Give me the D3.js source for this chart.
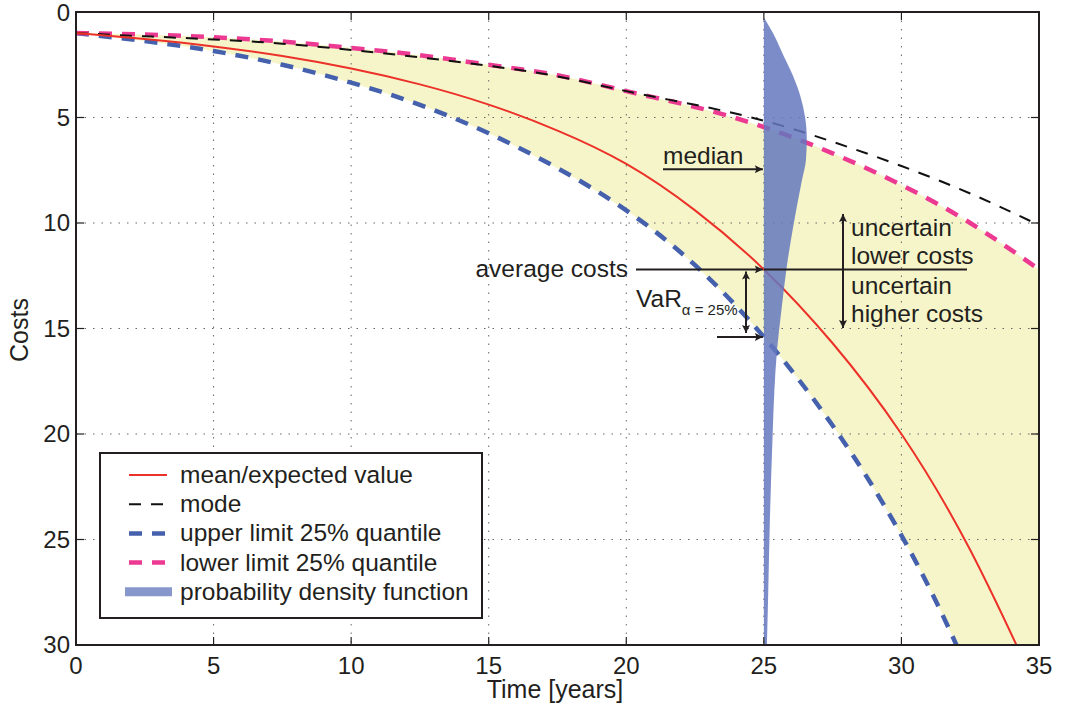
<!DOCTYPE html>
<html>
<head>
<meta charset="utf-8">
<script src="https://cdn.jsdelivr.net/npm/d3@7"></script>
<style>
  body { margin: 0; background: #fff; }
  text { font-family: "Liberation Sans", Arial, sans-serif; fill: #231f20; }
</style>
</head>
<body>
<svg id="chart" width="1080" height="711"></svg>
<script>
// DATA -----------------------------------------------------------------------

var years      = [0, 2.5, 5, 7.5, 10, 12.5, 15, 17.5, 20, 22.5, 25, 27.5, 30, 32.5, 35];
var meanCost   = [1, 1.28, 1.63, 2.09, 2.68, 3.43, 4.39, 5.62, 7.2, 9.4, 12.2, 15.7, 20.0, 25.5, 32.3];
var modeCost   = [1, 1.15, 1.3, 1.5, 1.8, 2.15, 2.55, 3.05, 3.75, 4.4, 5.15, 6.15, 7.3, 8.6, 10.1];
var upperQuant = [1, 1.38, 1.85, 2.5, 3.35, 4.4, 5.75, 7.4, 9.4, 12.0, 15.4, 19.6, 24.8, 31.5, 40];
var lowerQuant = [1, 1.07, 1.2, 1.4, 1.7, 2.05, 2.5, 3.0, 3.75, 4.5, 5.45, 6.7, 8.2, 10.0, 12.2];

// probability density at year 25, drawn sideways (width in years)
var pdfYear  = 25;
var pdfCost  = [0.3, 1, 2, 3, 4, 5, 6, 7, 8, 10, 12, 14, 16, 18, 20, 24, 28, 30];
var pdfWidth = [0.02, 0.33, 0.69, 1.05, 1.33, 1.5, 1.56, 1.53, 1.38, 1.09, 0.84, 0.65, 0.48, 0.38, 0.32, 0.22, 0.15, 0.11];

var xTicks = [0, 5, 10, 15, 20, 25, 30, 35];
var yTicks = [0, 5, 10, 15, 20, 25, 30];

var medianCost = 7.45;   // median of the pdf
var avgCost    = 12.2;   // mean at year 25
var varCost    = 15.4;   // 25% quantile at year 25

var legendLabels = ["mean/expected value", "mode", "upper limit 25% quantile",
                    "lower limit 25% quantile", "probability density function"];


// SETUP ----------------------------------------------------------------------

var svg = d3.select("#chart");
var pLeft = 76, pRight = 1039, pTop = 12, pBottom = 645;

var x = d3.scaleLinear().domain([0, 35]).range([pLeft, pRight]);
var y = d3.scaleLinear().domain([0, 30]).range([pTop, pBottom]);

var red = "#ec3129", pink = "#ec3a92", blue = "#4561ad", pdfColor = "rgb(100,120,190)";
var fs = 24.5; // annotation font size

var defs = svg.append("defs");
defs.append("clipPath").attr("id", "plotClip")
   .append("rect").attr("x", pLeft).attr("y", pTop)
   .attr("width", pRight - pLeft).attr("height", pBottom - pTop);

var marker = defs.append("marker")
   .attr("id", "arrow").attr("viewBox", "0 0 10 10")
   .attr("refX", 10).attr("refY", 5)
   .attr("markerWidth", 13).attr("markerHeight", 8)
   .attr("markerUnits", "userSpaceOnUse")
   .attr("orient", "auto-start-reverse");
marker.append("path").attr("d", "M0,0 L10,5 L0,10 L2,5 Z").attr("fill", "#231f20");

var plot = svg.append("g").attr("clip-path", "url(#plotClip)");

function series(vals) {
    return years.map(function(t, i) { return [t, vals[i]]; });
}

// FILLS ----------------------------------------------------------------------

var band = years.map(function(t, i) { return [t, upperQuant[i], lowerQuant[i]]; });
plot.append("path")
    .datum(band)
    .attr("fill", "#f6f5c9")
    .attr("d", d3.area()
        .x(function(d) { return x(d[0]); })
        .y0(function(d) { return y(d[1]); })
        .y1(function(d) { return y(d[2]); })
        .curve(d3.curveNatural));

// GRID -----------------------------------------------------------------------

plot.selectAll(".gx").data(xTicks.slice(1, -1)).enter()
    .append("line")
    .attr("x1", function(d) { return x(d); }).attr("x2", function(d) { return x(d); })
    .attr("y1", pTop).attr("y2", pBottom)
    .attr("stroke", "#666").attr("stroke-width", 1).attr("stroke-dasharray", "1.5,7");
plot.selectAll(".gy").data(yTicks.slice(1, -1)).enter()
    .append("line")
    .attr("y1", function(d) { return y(d); }).attr("y2", function(d) { return y(d); })
    .attr("x1", pLeft).attr("x2", pRight)
    .attr("stroke", "#666").attr("stroke-width", 1).attr("stroke-dasharray", "1.5,7");

// CURVES ---------------------------------------------------------------------

var line = d3.line()
    .x(function(d) { return x(d[0]); })
    .y(function(d) { return y(d[1]); })
    .curve(d3.curveNatural);

plot.append("path").datum(series(upperQuant)).attr("d", line)
    .attr("fill", "none").attr("stroke", blue).attr("stroke-width", 4.5)
    .attr("stroke-dasharray", "13,10");
plot.append("path").datum(series(lowerQuant)).attr("d", line)
    .attr("fill", "none").attr("stroke", pink).attr("stroke-width", 4.5)
    .attr("stroke-dasharray", "13,10");
plot.append("path").datum(series(modeCost)).attr("d", line)
    .attr("fill", "none").attr("stroke", "#111").attr("stroke-width", 2)
    .attr("stroke-dasharray", "12,10");
plot.append("path").datum(series(meanCost)).attr("d", line)
    .attr("fill", "none").attr("stroke", red).attr("stroke-width", 2);

// PDF ------------------------------------------------------------------------

var pdfData = pdfCost.map(function(c, i) { return [c, pdfWidth[i]]; });
plot.append("path")
    .datum(pdfData)
    .attr("fill", pdfColor).attr("fill-opacity", 0.85)
    .attr("d", d3.area()
        .y(function(d) { return y(d[0]); })
        .x0(x(pdfYear))
        .x1(function(d) { return x(pdfYear + d[1]); })
        .curve(d3.curveMonotoneY));

// AXES -----------------------------------------------------------------------

var axes = svg.append("g");
axes.append("rect").attr("x", pLeft).attr("y", pTop)
    .attr("width", pRight - pLeft).attr("height", pBottom - pTop)
    .attr("fill", "none").attr("stroke", "#231f20").attr("stroke-width", 2);

var tl = 8;
xTicks.forEach(function(t) {
    axes.append("line").attr("x1", x(t)).attr("x2", x(t)).attr("y1", pBottom).attr("y2", pBottom - tl)
        .attr("stroke", "#231f20").attr("stroke-width", 1.2);
    axes.append("line").attr("x1", x(t)).attr("x2", x(t)).attr("y1", pTop).attr("y2", pTop + tl)
        .attr("stroke", "#231f20").attr("stroke-width", 1.2);
});
yTicks.forEach(function(t) {
    axes.append("line").attr("y1", y(t)).attr("y2", y(t)).attr("x1", pLeft).attr("x2", pLeft + tl)
        .attr("stroke", "#231f20").attr("stroke-width", 1.2);
    axes.append("line").attr("y1", y(t)).attr("y2", y(t)).attr("x1", pRight).attr("x2", pRight - tl)
        .attr("stroke", "#231f20").attr("stroke-width", 1.2);
});

axes.selectAll(".xl").data(xTicks).enter().append("text")
    .attr("x", function(d) { return x(d); }).attr("y", pBottom + 29)
    .attr("text-anchor", "middle").attr("font-size", 24)
    .text(function(d) { return d; });
axes.selectAll(".yl").data(yTicks).enter().append("text")
    .attr("x", pLeft - 6).attr("y", function(d) { return Math.max(y(d) + 8, 21); })
    .attr("text-anchor", "end").attr("font-size", 24)
    .text(function(d) { return d; });

svg.append("text").attr("x", 555).attr("y", 698)
    .attr("text-anchor", "middle").attr("font-size", 25).text("Time [years]");
svg.append("text").attr("transform", "translate(28," + 330 + ") rotate(-90)")
    .attr("text-anchor", "middle").attr("font-size", 25).text("Costs");

// ANNOTATIONS ----------------------------------------------------------------

var ann = svg.append("g");
function arrow(x1, y1, x2, y2, both) {
    var l = ann.append("line").attr("x1", x1).attr("y1", y1).attr("x2", x2).attr("y2", y2)
        .attr("stroke", "#231f20").attr("stroke-width", 2)
        .attr("marker-end", "url(#arrow)");
    if (both) l.attr("marker-start", "url(#arrow)");
}

// median
arrow(663, y(medianCost), x(pdfYear) - 1, y(medianCost));
ann.append("text").attr("x", 663).attr("y", y(medianCost) - 5).attr("font-size", fs).text("median");

// average costs
ann.append("line").attr("x1", x(pdfYear)).attr("x2", 967)
    .attr("y1", y(avgCost)).attr("y2", y(avgCost))
    .attr("stroke", "#231f20").attr("stroke-width", 2);
arrow(636, y(avgCost), x(pdfYear) - 1, y(avgCost));
ann.append("text").attr("x", 628).attr("y", y(avgCost) + 8).attr("text-anchor", "end")
    .attr("font-size", fs).text("average costs");

// VaR
arrow(746, y(avgCost) + 2, 746, y(varCost) - 4, true);
arrow(717, y(varCost), x(pdfYear) - 1, y(varCost));
var varText = ann.append("text").attr("x", 636).attr("y", 307).attr("font-size", fs);
varText.append("tspan").text("VaR");
varText.append("tspan").attr("dy", 8).attr("font-size", 15).text("\u03b1 = 25%");

// uncertain costs
arrow(843, y(avgCost), 843, 214);
arrow(843, y(avgCost), 843, 328);
ann.selectAll(".unc").data(["uncertain", "lower costs", "uncertain", "higher costs"]).enter()
    .append("text")
    .attr("x", 851).attr("y", function(d, i) { return [236, 264, 294, 322][i]; })
    .attr("font-size", fs).text(function(d) { return d; });

// LEGEND ---------------------------------------------------------------------

var legend = svg.append("g");
legend.append("rect").attr("x", 100).attr("y", 453).attr("width", 382).attr("height", 165)
    .attr("fill", "#fff").attr("stroke", "#231f20").attr("stroke-width", 2);

var legendStyles = [
    { stroke: red, width: 2, dash: null },
    { stroke: "#111", width: 2, dash: "12,10" },
    { stroke: blue, width: 4.5, dash: "13,10" },
    { stroke: pink, width: 4.5, dash: "13,10" },
    { stroke: "#8797cc", width: 9, dash: null }
];
legendLabels.forEach(function(lab, i) {
    var cy = 475 + i * 29.2;
    var st = legendStyles[i];
    var x1 = i == 4 ? 125 : 129, x2 = i == 4 ? 172 : 167;
    var l = legend.append("line").attr("x1", x1).attr("x2", x2).attr("y1", cy).attr("y2", cy)
        .attr("stroke", st.stroke).attr("stroke-width", st.width);
    if (st.dash) l.attr("stroke-dasharray", st.dash);
    legend.append("text").attr("x", 180).attr("y", cy + 8).attr("font-size", fs).text(lab);
});
</script>
</body>
</html>
